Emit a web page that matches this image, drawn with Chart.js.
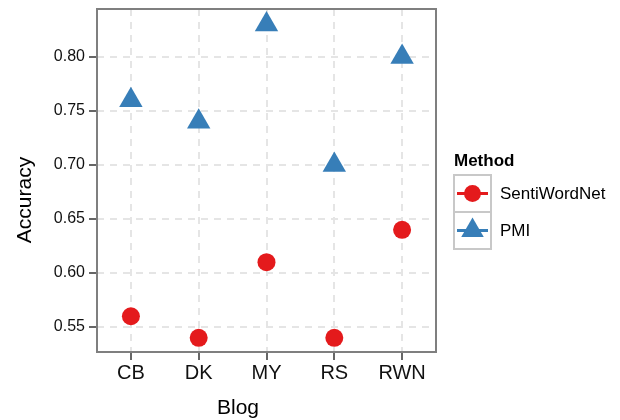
<!DOCTYPE html>
<html lang="en">
<head>
<meta charset="UTF-8">
<title>Accuracy by Blog</title>
<script src="https://cdn.jsdelivr.net/npm/chart.js"></script>
<style>
  body { margin: 0; background: #fff; }
  #wrap { width: 620px; height: 420px; }
</style>
</head>
<body>
<div id="wrap"><canvas id="chart" width="620" height="420"></canvas></div>
<script>
const blogs = ['CB', 'DK', 'MY', 'RS', 'RWN'];
const sentiWordNet = [0.56, 0.54, 0.61, 0.54, 0.64];
const pmi = [0.76, 0.74, 0.83, 0.70, 0.80];
const yTicks = [0.55, 0.60, 0.65, 0.70, 0.75, 0.80];

const RED = '#E41A1C';
const BLUE = '#377EB8';
const FONT = "'Liberation Sans', Arial, sans-serif";

// panel box, axis titles and legend, drawn ggplot style
const panelAndLegend = {
  id: 'panelAndLegend',
  afterDraw(chart) {
    const ctx = chart.ctx;
    const a = chart.chartArea;
    ctx.save();
    ctx.strokeStyle = '#7f7f7f';
    ctx.lineWidth = 2;
    ctx.strokeRect(a.left, a.top, a.right - a.left, a.bottom - a.top);

    // axis titles
    ctx.fillStyle = '#000';
    ctx.font = '21px ' + FONT;
    ctx.textAlign = 'center';
    ctx.textBaseline = 'middle';
    ctx.fillText('Blog', 238, 408);
    ctx.save();
    ctx.translate(25, 200);
    ctx.rotate(-Math.PI / 2);
    ctx.fillText('Accuracy', 0, 0);
    ctx.restore();

    // legend
    const lx = 454;
    ctx.textAlign = 'left';
    ctx.font = 'bold 17px ' + FONT;
    ctx.fillText('Method', lx, 161);

    const keys = [
      { label: 'SentiWordNet', color: RED, shape: 'circle', y: 175 },
      { label: 'PMI', color: BLUE, shape: 'triangle', y: 212 }
    ];
    keys.forEach(k => {
      ctx.fillStyle = '#ffffff';
      ctx.fillRect(lx, k.y, 37, 37);
      ctx.strokeStyle = '#c8c8c8';
      ctx.lineWidth = 2;
      ctx.strokeRect(lx, k.y, 37, 37);
      const cx = lx + 18.5, cy = k.y + 18.5;
      ctx.strokeStyle = k.color;
      ctx.lineWidth = 3;
      ctx.beginPath();
      ctx.moveTo(lx + 3, cy);
      ctx.lineTo(lx + 34, cy);
      ctx.stroke();
      ctx.fillStyle = k.color;
      ctx.beginPath();
      if (k.shape === 'circle') {
        ctx.arc(cx, cy, 8.5, 0, Math.PI * 2);
      } else {
        const r = 13;
        ctx.moveTo(cx, cy - r);
        ctx.lineTo(cx + r * 0.866, cy + r / 2);
        ctx.lineTo(cx - r * 0.866, cy + r / 2);
        ctx.closePath();
      }
      ctx.fill();
      ctx.fillStyle = '#000';
      ctx.font = '17px ' + FONT;
      ctx.fillText(k.label, lx + 46, cy + 1);
    });
    ctx.restore();
  }
};

const gridOpts = {
  color: '#e5e5e5',
  lineWidth: 2,
  tickColor: '#333333',
  tickWidth: 1.5,
  tickLength: 8,
  tickBorderDash: []
};

new Chart(document.getElementById('chart'), {
  type: 'line',
  data: {
    labels: blogs,
    datasets: [
      {
        label: 'SentiWordNet',
        data: sentiWordNet,
        showLine: false,
        pointStyle: 'circle',
        pointRadius: 9,
        pointHoverRadius: 9,
        backgroundColor: RED,
        borderColor: RED,
        borderWidth: 0
      },
      {
        label: 'PMI',
        data: pmi,
        showLine: false,
        pointStyle: 'triangle',
        pointRadius: 13.5,
        pointHoverRadius: 13.5,
        backgroundColor: BLUE,
        borderColor: BLUE,
        borderWidth: 0
      }
    ]
  },
  options: {
    responsive: false,
    animation: false,
    layout: { autoPadding: false, padding: { top: 9, right: 184, left: 0, bottom: 0 } },
    plugins: {
      legend: { display: false },
      tooltip: { enabled: false }
    },
    scales: {
      x: {
        type: 'category',
        offset: true,
        afterFit(scale) {
          scale.height = 68;
          scale.paddingLeft = 0;
          scale.paddingRight = 0;
        },
        grid: gridOpts,
        border: { display: false, dash: [7, 6] },
        ticks: { color: '#111111', font: { family: FONT, size: 20 }, padding: 1 }
      },
      y: {
        min: 0.5269,
        max: 0.8444,
        afterFit(scale) {
          scale.width = 97;
          scale.paddingTop = 0;
          scale.paddingBottom = 0;
        },
        afterBuildTicks(scale) { scale.ticks = yTicks.map(v => ({ value: v })); },
        grid: gridOpts,
        border: { display: false, dash: [7, 6] },
        ticks: {
          color: '#111111',
          font: { family: FONT, size: 16 },
          padding: 4,
          callback: v => v.toFixed(2)
        }
      }
    }
  },
  plugins: [panelAndLegend]
});
</script>
</body>
</html>
